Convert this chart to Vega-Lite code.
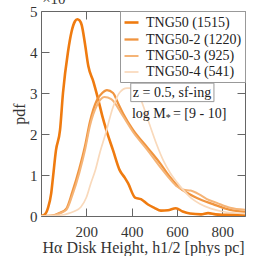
{
"$schema": "https://vega.github.io/schema/vega-lite/v6.json",
"width": 204, "height": 205,
"autosize": {"type": "none"},
"padding": {"left": 41, "top": 11, "right": 11, "bottom": 40},
"background": "white",
"config": {
  "font": "Liberation Serif",
  "view": {"stroke": null},
  "text": {"font": "Liberation Serif"},
  "axis": {"labelFont": "Liberation Serif", "titleFont": "Liberation Serif", "grid": false, "domainColor": "#666", "tickColor": "#666", "labelColor": "#333", "titleColor": "#333", "labelFontSize": 15, "titleFontSize": 16, "titleFontWeight": "normal", "tickSize": -8},
  "legend": {"labelFont": "Liberation Serif", "orient": "top-right", "offset": 0, "padding": 3, "strokeColor": "#999", "fillColor": "white", "symbolType": "stroke", "symbolSize": 196, "labelFontSize": 14, "labelColor": "#222", "rowPadding": 1, "labelOffset": 6, "labelLimit": 200}
},
"datasets": {
  "curves": [
    {"s": "TNG50 (1515)", "x": 0, "y": 0}, {"s": "TNG50 (1515)", "x": 15, "y": 0.03}, {"s": "TNG50 (1515)", "x": 31, "y": 0.2}, {"s": "TNG50 (1515)", "x": 45, "y": 0.55}, {"s": "TNG50 (1515)", "x": 53, "y": 0.95}, {"s": "TNG50 (1515)", "x": 66, "y": 1.6}, {"s": "TNG50 (1515)", "x": 84, "y": 2.1}, {"s": "TNG50 (1515)", "x": 97, "y": 3.0}, {"s": "TNG50 (1515)", "x": 119, "y": 4.0}, {"s": "TNG50 (1515)", "x": 135, "y": 4.5}, {"s": "TNG50 (1515)", "x": 150, "y": 4.75}, {"s": "TNG50 (1515)", "x": 160, "y": 4.8}, {"s": "TNG50 (1515)", "x": 170, "y": 4.77}, {"s": "TNG50 (1515)", "x": 180, "y": 4.65}, {"s": "TNG50 (1515)", "x": 194, "y": 4.2}, {"s": "TNG50 (1515)", "x": 209, "y": 3.65}, {"s": "TNG50 (1515)", "x": 231, "y": 3.28}, {"s": "TNG50 (1515)", "x": 253, "y": 2.83}, {"s": "TNG50 (1515)", "x": 270, "y": 2.45}, {"s": "TNG50 (1515)", "x": 288, "y": 2.1}, {"s": "TNG50 (1515)", "x": 318, "y": 1.6}, {"s": "TNG50 (1515)", "x": 347, "y": 1.12}, {"s": "TNG50 (1515)", "x": 370, "y": 0.93}, {"s": "TNG50 (1515)", "x": 384, "y": 0.8}, {"s": "TNG50 (1515)", "x": 415, "y": 0.45}, {"s": "TNG50 (1515)", "x": 441, "y": 0.41}, {"s": "TNG50 (1515)", "x": 472, "y": 0.28}, {"s": "TNG50 (1515)", "x": 500, "y": 0.2}, {"s": "TNG50 (1515)", "x": 529, "y": 0.13}, {"s": "TNG50 (1515)", "x": 560, "y": 0.14}, {"s": "TNG50 (1515)", "x": 595, "y": 0.19}, {"s": "TNG50 (1515)", "x": 625, "y": 0.11}, {"s": "TNG50 (1515)", "x": 657, "y": 0.06}, {"s": "TNG50 (1515)", "x": 706, "y": 0.04}, {"s": "TNG50 (1515)", "x": 737, "y": 0.07}, {"s": "TNG50 (1515)", "x": 770, "y": 0.04}, {"s": "TNG50 (1515)", "x": 800, "y": 0.03}, {"s": "TNG50 (1515)", "x": 850, "y": 0.03}, {"s": "TNG50 (1515)", "x": 900, "y": 0.02},
    {"s": "TNG50-2 (1220)", "x": 0, "y": 0}, {"s": "TNG50-2 (1220)", "x": 50, "y": 0.01}, {"s": "TNG50-2 (1220)", "x": 81, "y": 0.07}, {"s": "TNG50-2 (1220)", "x": 112, "y": 0.18}, {"s": "TNG50-2 (1220)", "x": 138, "y": 0.58}, {"s": "TNG50-2 (1220)", "x": 169, "y": 1.15}, {"s": "TNG50-2 (1220)", "x": 194, "y": 1.7}, {"s": "TNG50-2 (1220)", "x": 216, "y": 2.3}, {"s": "TNG50-2 (1220)", "x": 247, "y": 2.83}, {"s": "TNG50-2 (1220)", "x": 270, "y": 3.0}, {"s": "TNG50-2 (1220)", "x": 291, "y": 3.07}, {"s": "TNG50-2 (1220)", "x": 318, "y": 3.0}, {"s": "TNG50-2 (1220)", "x": 340, "y": 2.75}, {"s": "TNG50-2 (1220)", "x": 362, "y": 2.5}, {"s": "TNG50-2 (1220)", "x": 406, "y": 2.1}, {"s": "TNG50-2 (1220)", "x": 468, "y": 1.68}, {"s": "TNG50-2 (1220)", "x": 525, "y": 1.29}, {"s": "TNG50-2 (1220)", "x": 569, "y": 0.95}, {"s": "TNG50-2 (1220)", "x": 613, "y": 0.68}, {"s": "TNG50-2 (1220)", "x": 650, "y": 0.55}, {"s": "TNG50-2 (1220)", "x": 688, "y": 0.44}, {"s": "TNG50-2 (1220)", "x": 759, "y": 0.29}, {"s": "TNG50-2 (1220)", "x": 834, "y": 0.15}, {"s": "TNG50-2 (1220)", "x": 900, "y": 0.1},
    {"s": "TNG50-3 (925)", "x": 0, "y": 0}, {"s": "TNG50-3 (925)", "x": 60, "y": 0.02}, {"s": "TNG50-3 (925)", "x": 85, "y": 0.07}, {"s": "TNG50-3 (925)", "x": 112, "y": 0.15}, {"s": "TNG50-3 (925)", "x": 138, "y": 0.5}, {"s": "TNG50-3 (925)", "x": 169, "y": 1.05}, {"s": "TNG50-3 (925)", "x": 194, "y": 1.6}, {"s": "TNG50-3 (925)", "x": 216, "y": 2.2}, {"s": "TNG50-3 (925)", "x": 247, "y": 2.7}, {"s": "TNG50-3 (925)", "x": 280, "y": 2.9}, {"s": "TNG50-3 (925)", "x": 310, "y": 2.85}, {"s": "TNG50-3 (925)", "x": 360, "y": 2.45}, {"s": "TNG50-3 (925)", "x": 406, "y": 2.05}, {"s": "TNG50-3 (925)", "x": 468, "y": 1.62}, {"s": "TNG50-3 (925)", "x": 525, "y": 1.2}, {"s": "TNG50-3 (925)", "x": 569, "y": 0.9}, {"s": "TNG50-3 (925)", "x": 600, "y": 0.72}, {"s": "TNG50-3 (925)", "x": 630, "y": 0.64}, {"s": "TNG50-3 (925)", "x": 660, "y": 0.62}, {"s": "TNG50-3 (925)", "x": 700, "y": 0.52}, {"s": "TNG50-3 (925)", "x": 730, "y": 0.42}, {"s": "TNG50-3 (925)", "x": 776, "y": 0.32}, {"s": "TNG50-3 (925)", "x": 834, "y": 0.2}, {"s": "TNG50-3 (925)", "x": 900, "y": 0.15},
    {"s": "TNG50-4 (541)", "x": 0, "y": 0}, {"s": "TNG50-4 (541)", "x": 100, "y": 0.03}, {"s": "TNG50-4 (541)", "x": 125, "y": 0.07}, {"s": "TNG50-4 (541)", "x": 150, "y": 0.12}, {"s": "TNG50-4 (541)", "x": 176, "y": 0.22}, {"s": "TNG50-4 (541)", "x": 200, "y": 0.45}, {"s": "TNG50-4 (541)", "x": 220, "y": 0.8}, {"s": "TNG50-4 (541)", "x": 240, "y": 1.12}, {"s": "TNG50-4 (541)", "x": 260, "y": 1.55}, {"s": "TNG50-4 (541)", "x": 282, "y": 1.95}, {"s": "TNG50-4 (541)", "x": 318, "y": 2.66}, {"s": "TNG50-4 (541)", "x": 348, "y": 3.02}, {"s": "TNG50-4 (541)", "x": 379, "y": 3.12}, {"s": "TNG50-4 (541)", "x": 405, "y": 3.12}, {"s": "TNG50-4 (541)", "x": 430, "y": 3.0}, {"s": "TNG50-4 (541)", "x": 450, "y": 2.7}, {"s": "TNG50-4 (541)", "x": 481, "y": 2.2}, {"s": "TNG50-4 (541)", "x": 510, "y": 1.75}, {"s": "TNG50-4 (541)", "x": 540, "y": 1.35}, {"s": "TNG50-4 (541)", "x": 570, "y": 1.05}, {"s": "TNG50-4 (541)", "x": 600, "y": 0.82}, {"s": "TNG50-4 (541)", "x": 630, "y": 0.62}, {"s": "TNG50-4 (541)", "x": 660, "y": 0.45}, {"s": "TNG50-4 (541)", "x": 700, "y": 0.3}, {"s": "TNG50-4 (541)", "x": 750, "y": 0.18}, {"s": "TNG50-4 (541)", "x": 800, "y": 0.11}, {"s": "TNG50-4 (541)", "x": 900, "y": 0.06}
  ],
  "one": [{}]
},
"layer": [
  {
    "data": {"name": "curves"},
    "mark": {"type": "line", "interpolate": "monotone", "clip": true},
    "encoding": {
      "x": {"field": "x", "type": "quantitative", "scale": {"domain": [0, 900], "nice": false, "zero": false}, "axis": {"orient": "bottom", "values": [200, 400, 600, 800], "title": "Hα Disk Height, h1/2 [phys pc]", "labelPadding": 16, "titlePadding": 0}},
      "y": {"field": "y", "type": "quantitative", "scale": {"domain": [0, 5], "nice": false}, "axis": {"orient": "left", "values": [0, 1, 2, 3, 4, 5], "title": "pdf", "labelPadding": 12, "titlePadding": 2}},
      "color": {"field": "s", "type": "nominal", "scale": {"domain": ["TNG50 (1515)", "TNG50-2 (1220)", "TNG50-3 (925)", "TNG50-4 (541)"], "range": ["#ef7b10", "#f0943e", "#f5b477", "#f9d9bb"]}, "legend": {"title": null}},
      "strokeWidth": {"field": "s", "type": "nominal", "scale": {"domain": ["TNG50 (1515)", "TNG50-2 (1220)", "TNG50-3 (925)", "TNG50-4 (541)"], "range": [2.6, 1.7, 1.2, 1.0]}, "legend": {"title": null}}
    }
  },
  {
    "data": {"name": "curves"},
    "mark": {"type": "line", "opacity": 0},
    "encoding": {
      "x": {"field": "x", "type": "quantitative", "axis": {"orient": "top", "values": [200, 400, 600, 800], "labels": false, "title": null}},
      "y": {"field": "y", "type": "quantitative", "axis": {"orient": "right", "values": [0, 1, 2, 3, 4, 5], "labels": false, "title": null}}
    }
  },
  {
    "data": {"name": "one"},
    "mark": {"type": "rect", "fill": "white", "stroke": "#999", "strokeWidth": 1},
    "encoding": {
      "x": {"datum": 396, "type": "quantitative", "axis": null},
      "x2": {"datum": 763},
      "y": {"datum": 3.24, "type": "quantitative", "axis": null},
      "y2": {"datum": 2.79}
    }
  },
  {
    "data": {"name": "one"},
    "mark": {"type": "text", "font": "Liberation Serif", "text": "z = 0.5, sf-ing", "fontSize": 14, "align": "center", "baseline": "middle", "color": "#222"},
    "encoding": {
      "x": {"datum": 578, "type": "quantitative", "axis": null},
      "y": {"datum": 2.99, "type": "quantitative", "axis": null}
    }
  },
  {
    "data": {"name": "one"},
    "mark": {"type": "text", "font": "Liberation Serif", "text": "log M", "fontSize": 14, "align": "left", "baseline": "middle", "color": "#222"},
    "encoding": {
      "x": {"datum": 401, "type": "quantitative", "axis": null},
      "y": {"datum": 2.5, "type": "quantitative", "axis": null}
    }
  },
  {
    "data": {"name": "one"},
    "mark": {"type": "text", "font": "Liberation Serif", "text": "*", "fontSize": 10, "align": "left", "baseline": "middle", "color": "#222", "dy": 4},
    "encoding": {
      "x": {"datum": 550, "type": "quantitative", "axis": null},
      "y": {"datum": 2.5, "type": "quantitative", "axis": null}
    }
  },
  {
    "data": {"name": "one"},
    "mark": {"type": "text", "font": "Liberation Serif", "text": "= [9 - 10]", "fontSize": 14, "align": "left", "baseline": "middle", "color": "#222"},
    "encoding": {
      "x": {"datum": 582, "type": "quantitative", "axis": null},
      "y": {"datum": 2.5, "type": "quantitative", "axis": null}
    }
  },
  {
    "data": {"name": "one"},
    "mark": {"type": "text", "font": "Liberation Serif", "text": "×10", "fontSize": 15, "align": "left", "baseline": "alphabetic", "color": "#333", "clip": false},
    "encoding": {
      "x": {"datum": 5, "type": "quantitative", "axis": null},
      "y": {"datum": 5.17, "type": "quantitative", "axis": null}
    }
  }
],
"resolve": {"axis": {"x": "independent", "y": "independent"}}
}
